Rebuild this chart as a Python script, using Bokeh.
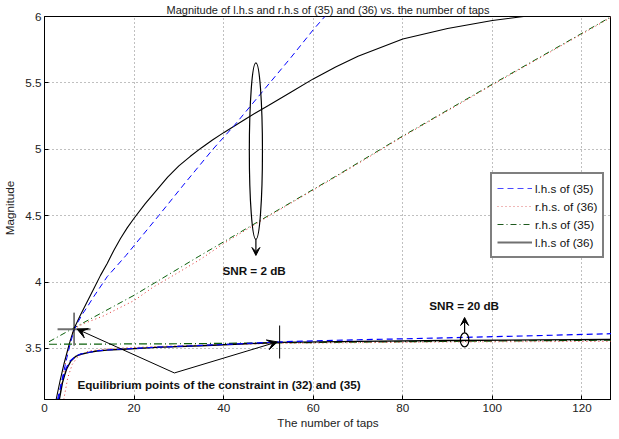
import math
from bokeh.plotting import figure
from bokeh.models import Range1d, FixedTicker, Legend, LegendItem, Label, Arrow, VeeHead
from bokeh.embed import file_html
from bokeh.resources import INLINE

# ---------------- data ----------------
title_text = "Magnitude of l.h.s and r.h.s of (35) and (36) vs. the number of taps"
x_ticks = [0, 20, 40, 60, 80, 100, 120]
y_ticks = [3.5, 4.0, 4.5, 5.0, 5.5, 6.0]
y_tick_labels = ["3.5", "4", "4.5", "5", "5.5", "6"]

# SNR = 2 dB
x_black_2 = [2.6, 3.5, 4.4, 5.5, 6.6, 8.0, 9.5, 11.0, 12.5, 14.0, 15.5, 17.0, 18.5, 20.0, 22.5, 25.0,
             27.5, 30.0, 32.5, 35.0, 37.5, 40.0, 42.4, 45.0, 47.2, 50.0, 55.0, 60.0, 65.0, 70.0, 80.0,
             90.0, 100.0, 107.0, 115.0]
y_black_2 = [3.115, 3.26, 3.39, 3.53, 3.65, 3.75, 3.85, 3.95, 4.05, 4.14, 4.24, 4.33, 4.41, 4.48, 4.59, 4.69,
             4.79, 4.875, 4.945, 5.01, 5.07, 5.125, 5.175, 5.23, 5.275, 5.33, 5.43, 5.53, 5.62, 5.70, 5.83,
             5.91, 5.97, 6.0, 6.03]
x_blue_2 = [2.9, 3.5, 4.2, 5.0, 5.7, 6.6, 7.5, 8.5, 9.5, 11.0, 14.0, 18.2, 25.5, 31.0, 37.6, 42.4,
            50.3, 55.0, 60.0, 62.6, 64.0]
y_blue_2 = [3.115, 3.2, 3.31, 3.43, 3.53, 3.635, 3.70, 3.76, 3.81, 3.89, 4.04, 4.2, 4.5, 4.73, 5.0, 5.18,
            5.5, 5.69, 5.9, 6.0, 6.06]
x_green_2 = [1.0, 6.6, 20.0, 34.3, 50.0, 65.2, 80.0, 100.0, 126.6]
y_green_2 = [3.55, 3.655, 3.90, 4.19, 4.50, 4.80, 5.10, 5.49, 6.0]
x_red_2 = [3.2, 4.2, 5.0, 5.7, 6.6, 9.0, 13.2, 17.6, 20.0, 24.2, 29.3, 35.0, 40.0, 50.0, 65.2, 80.0,
           100.0, 126.6]
y_red_2 = [3.115, 3.3, 3.45, 3.557, 3.65, 3.69, 3.745, 3.82, 3.86, 3.96, 4.06, 4.175, 4.29, 4.495, 4.795,
           5.095, 5.485, 5.995]

# SNR = 20 dB
x_black_20 = [3.3, 4.0, 4.5, 5.0, 5.9, 7.0, 8.1, 10.0, 11.7, 14.0, 17.6, 25.0, 35.0, 45.0, 52.5, 70.0,
              90.0, 110.0, 126.6]
y_black_20 = [3.115, 3.24, 3.30, 3.35, 3.405, 3.44, 3.456, 3.47, 3.48, 3.487, 3.494, 3.508, 3.52, 3.535,
              3.545, 3.553, 3.559, 3.564, 3.567]
x_blue_20 = [3.1, 3.8, 4.3, 4.8, 5.7, 7.0, 8.1, 10.0, 11.7, 14.0, 17.6, 25.0, 35.0, 45.0, 52.5, 60.0,
             70.0, 80.0, 94.0, 110.0, 126.6]
y_blue_20 = [3.115, 3.24, 3.30, 3.35, 3.405, 3.442, 3.458, 3.471, 3.481, 3.488, 3.495, 3.509, 3.522,
             3.537, 3.549, 3.557, 3.565, 3.572, 3.583, 3.596, 3.611]
x_green_20 = [1.0, 30.0, 52.5, 90.0, 126.6]
y_green_20 = [3.531, 3.535, 3.542, 3.553, 3.562]
x_red_20 = [4.3, 5.2, 6.2, 7.5, 9.8, 15.0, 30.0, 52.5, 90.0, 126.6]
y_red_20 = [3.115, 3.28, 3.38, 3.44, 3.48, 3.50, 3.52, 3.538, 3.548, 3.553]

# equilibrium points
eq_x = [6.6, 52.5]
eq_y = [3.645, 3.548]
vertex_x, vertex_y = 29.0, 3.315
arrow_tip_x = [7.3, 52.0]
arrow_tip_y = [3.645, 3.549]

# SNR ellipses and labels
ell_x = [47.2, 93.8]
ell_y = [4.986, 3.564]
ell_w = [2.93, 1.9]
ell_h = [1.33, 0.106]
legend_labels = ["l.h.s of (35)", "r.h.s. of (36)", "r.h.s of (35)", "l.h.s of (36)"]

FONT = "Liberation Sans"
BLUE = "#0000ff"
GREEN = "#0a5f0a"
RED = "#e03030"

p = figure(width=611, height=431, output_backend="svg", toolbar_location=None,
           x_range=Range1d(0, 126.6), y_range=Range1d(3.115, 6.0),
           min_border_left=0, min_border_right=0, min_border_top=16, min_border_bottom=0)
p.title.text = title_text
p.title.align = "center"
p.title.text_font = FONT
p.title.text_font_size = "11px"
p.title.text_font_style = "normal"
p.title.text_color = "#222222"
p.title.standoff = 1
p.outline_line_color = "black"
p.outline_line_width = 1
p.background_fill_color = "white"

for ax in (p.xaxis[0], p.yaxis[0]):
    ax.major_tick_in = 4
    ax.major_tick_out = 0
    ax.minor_tick_in = 0
    ax.minor_tick_out = 0
    ax.axis_line_color = "black"
    ax.major_tick_line_color = "black"
    ax.major_label_text_font = FONT
    ax.major_label_text_font_size = "11.7px"
    ax.major_label_text_color = "#222222"
    ax.axis_label_text_font = FONT
    ax.axis_label_text_font_size = "11.7px"
    ax.axis_label_text_font_style = "normal"
    ax.axis_label_text_color = "#222222"

p.xaxis.ticker = FixedTicker(ticks=x_ticks)
p.yaxis.ticker = FixedTicker(ticks=y_ticks)
p.yaxis.major_label_overrides = {t: l for t, l in zip(y_ticks, y_tick_labels)}
p.xaxis.axis_label = "The number of taps"
p.yaxis.axis_label = "Magnitude"
p.xaxis.major_label_standoff = 4
p.xaxis.axis_label_standoff = 1
p.yaxis.major_label_standoff = 3
p.yaxis.axis_label_standoff = 6

for g in (p.xgrid[0], p.ygrid[0]):
    g.grid_line_color = "#808080"
    g.grid_line_dash = "1 3"
    g.grid_line_width = 1

# curves
p.line(x_green_2, y_green_2, line_color=GREEN, line_dash="6 3 1 3", line_width=1)
p.line(x_red_2, y_red_2, line_color=RED, line_dash="1 3", line_width=1)
p.line(x_black_2, y_black_2, line_color="black", line_width=1.1)
p.line(x_blue_2, y_blue_2, line_color=BLUE, line_dash="6 4", line_width=1)

p.line(x_green_20, y_green_20, line_color=GREEN, line_dash="8 3 1 3", line_width=1.2)
p.line(x_red_20, y_red_20, line_color=RED, line_dash="1 3", line_width=1)
p.line(x_black_20, y_black_20, line_color="black", line_width=1.4)
p.line(x_blue_20, y_blue_20, line_color=BLUE, line_dash="6 4", line_width=1.2)

# equilibrium markers
p.scatter(eq_x[:1], eq_y[:1], marker="dash", size=33, line_color="#707070", line_width=2)
p.scatter(eq_x, eq_y, marker="dash", angle=math.pi / 2, size=33, line_color="black", line_width=1)

for tx, ty in zip(arrow_tip_x, arrow_tip_y):
    p.add_layout(Arrow(end=VeeHead(size=10, fill_color="black", line_color="black"),
                       x_start=vertex_x, y_start=vertex_y, x_end=tx, y_end=ty,
                       line_color="black", line_width=1))

# ellipses
p.ellipse(x=ell_x, y=ell_y, width=ell_w, height=ell_h, fill_color=None,
          line_color="black", line_width=1.2)
p.add_layout(Arrow(end=VeeHead(size=8, fill_color="black", line_color="black"),
                   x_start=ell_x[0], y_start=ell_y[0] - ell_h[0] / 2, x_end=ell_x[0], y_end=4.20,
                   line_color="black", line_width=1.2))
p.add_layout(Arrow(end=VeeHead(size=8, fill_color="black", line_color="black"),
                   x_start=ell_x[1], y_start=ell_y[1] + ell_h[1] / 2, x_end=ell_x[1], y_end=3.733,
                   line_color="black", line_width=1.2))

for txt, tx, ty, align in [("SNR = 2 dB", 46.8, 4.085, "center"),
                           ("SNR = 20 dB", 93.7, 3.821, "center"),
                           ("Equilibrium points of the constraint in (32) and (35)", 7.35, 3.23, "left")]:
    p.add_layout(Label(x=tx, y=ty, text=txt, text_font=FONT, text_font_size="11.7px",
                       text_font_style="bold", text_align=align, text_baseline="middle",
                       text_color="#111111"))

# legend (key-only renderers, nothing plotted)
nan = [math.nan, math.nan]
r1 = p.line(nan, nan, line_color="#4a4aff", line_dash="6 4", line_width=1.2)
r2 = p.line(nan, nan, line_color="#e07070", line_dash="1 3", line_width=1)
r3 = p.line(nan, nan, line_color="#1e5a1e", line_dash="6 3 1 3", line_width=1)
r4 = p.line(nan, nan, line_color="#707070", line_width=2)
legend = Legend(items=[LegendItem(label=l, renderers=[r]) for l, r in zip(legend_labels, [r1, r2, r3, r4])],
                location=(446, 141), glyph_width=35, glyph_height=18, label_height=18,
                spacing=0, padding=5, margin=0, label_standoff=3,
                label_text_font=FONT, label_text_font_size="11.7px", label_text_color="#111111",
                border_line_color="black", border_line_width=2, background_fill_alpha=1)
p.add_layout(legend)

open("out.html", "w").write(file_html(p, INLINE))
